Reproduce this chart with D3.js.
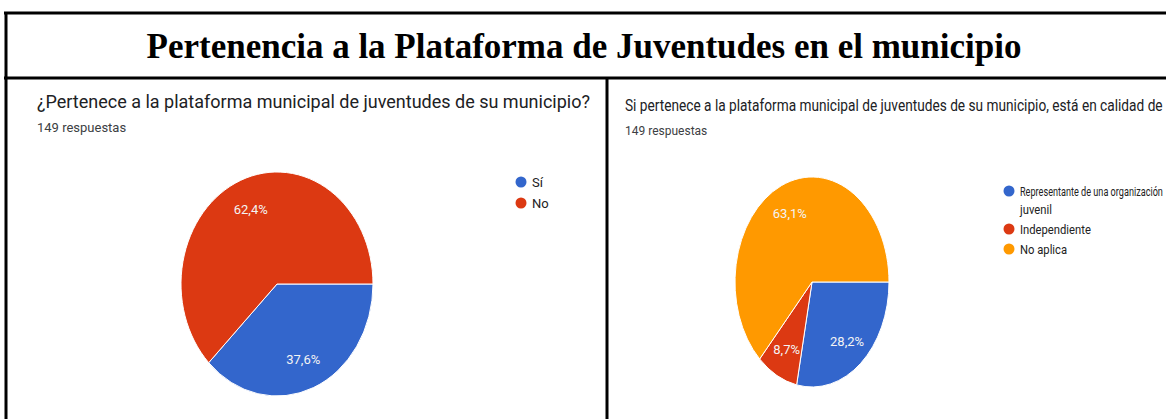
<!DOCTYPE html>
<html>
<head>
<meta charset="utf-8">
<script src="https://cdn.jsdelivr.net/npm/d3@7"></script>
<style>
  body { margin: 0; background: #fff; }
  svg { display: block; }
</style>
</head>
<body>
<svg id="chart"></svg>
<script>
  var w = 1166, h = 419;

  var title = "Pertenencia a la Plataforma de Juventudes en el municipio";
  var count = "149 respuestas";

  // left question
  var q1 = "¿Pertenece a la plataforma municipal de juventudes de su municipio?";
  var q1Labels = ["Sí", "No"];
  var q1Values = [37.6, 62.4];
  var q1Colors = ["#3366cc", "#dc3912"];

  // right question
  var q2 = "Si pertenece a la plataforma municipal de juventudes de su municipio, está en calidad de";
  var q2Labels = [["Representante de una organización", "juvenil"], ["Independiente"], ["No aplica"]];
  var q2Values = [28.2, 8.7, 63.1];
  var q2Colors = ["#3366cc", "#dc3912", "#ff9900"];

  var svg = d3.select("#chart").attr("width", w).attr("height", h);

  // table frame
  var frame = svg.append("g").attr("stroke", "#000").attr("stroke-width", 3);
  frame.append("line").attr("x1", 4).attr("x2", w).attr("y1", 13).attr("y2", 13);
  frame.append("line").attr("x1", 4).attr("x2", w).attr("y1", 78).attr("y2", 78);
  frame.append("line").attr("x1", 6).attr("x2", 6).attr("y1", 12).attr("y2", h);
  frame.append("line").attr("x1", 607).attr("x2", 607).attr("y1", 78).attr("y2", h);

  svg.append("text").attr("x", 584).attr("y", 58)
    .attr("text-anchor", "middle")
    .attr("font-family", "Liberation Serif, Times New Roman, serif")
    .attr("font-weight", "bold").attr("font-size", "35px")
    .text(title);

  // text squeezed horizontally so that it fits in maxW (the source is a narrow screenshot)
  function narrowText(parent, x, y, str, size, fill, maxW, squeeze) {
    var g = parent.append("g");
    var t = g.append("text").attr("x", 0).attr("y", 0)
      .attr("font-family", "Roboto, sans-serif").attr("font-size", size + "px")
      .attr("fill", fill).text(str);
    var k = Math.min(squeeze, maxW / t.node().getComputedTextLength());
    g.attr("transform", "translate(" + x + "," + y + ") scale(" + k + ",1)");
    return g;
  }

  function drawPie(opt) {
    var g = svg.append("g");
    narrowText(g, opt.qx, opt.qy, opt.question, opt.qsize, "#202124", w - 3 - opt.qx, 1);
    narrowText(g, opt.qx, opt.cy0, count, opt.csize, "#3c4043", 300, 1);

    var pie = d3.pie().sort(null)
      .startAngle(Math.PI / 2).endAngle(Math.PI / 2 + 2 * Math.PI);
    var arcs = pie(opt.values);
    var arc = d3.arc().innerRadius(0).outerRadius(opt.rx);
    var labelArc = d3.arc().innerRadius(opt.rx * 0.72).outerRadius(opt.rx * 0.72);
    var sy = opt.ry / opt.rx;

    var pg = g.append("g")
      .attr("transform", "translate(" + opt.cx + "," + opt.cy + ") scale(1," + sy + ")");
    pg.selectAll("path").data(arcs).enter().append("path")
      .attr("d", arc)
      .attr("fill", function(d, i) { return opt.colors[i]; })
      .attr("stroke", "#fff").attr("stroke-width", 1)
      .attr("vector-effect", "non-scaling-stroke");

    g.selectAll("text.pct").data(arcs).enter().append("text")
      .attr("class", "pct")
      .attr("x", function(d) { return opt.cx + labelArc.centroid(d)[0]; })
      .attr("y", function(d) { return opt.cy + labelArc.centroid(d)[1] * sy + 5; })
      .attr("text-anchor", "middle")
      .attr("font-family", "Roboto, sans-serif").attr("font-size", "13px")
      .attr("fill", "#f4f4f4")
      .text(function(d) { return d.value.toFixed(1).replace(".", ",") + "%"; });

    // legend
    var y = opt.ly;
    opt.labels.forEach(function(lab, i) {
      var lines = Array.isArray(lab) ? lab : [lab];
      g.append("circle").attr("cx", opt.lx).attr("cy", y).attr("r", 5.5)
        .attr("fill", opt.colors[i]);
      lines.forEach(function(t, j) {
        narrowText(g, opt.lx + 11, y + 4.5 + j * 18, t, opt.lsize, "#222",
          w - 3 - (opt.lx + 11), opt.lsqueeze);
      });
      y += opt.lstep + (lines.length - 1) * 18;
    });
  }

  drawPie({ question: q1, labels: q1Labels, values: q1Values, colors: q1Colors,
    qx: 37, qy: 108, qsize: 18, csize: 13, cy0: 132,
    cx: 277, cy: 284, rx: 96, ry: 112,
    lx: 521, ly: 182, lstep: 21, lsize: 13, lsqueeze: 1 });

  drawPie({ question: q2, labels: q2Labels, values: q2Values, colors: q2Colors,
    qx: 625, qy: 111, qsize: 17, csize: 12, cy0: 135,
    cx: 812, cy: 282, rx: 77, ry: 105,
    lx: 1009, ly: 191, lstep: 20, lsize: 12.5, lsqueeze: 0.9 });
</script>
</body>
</html>
